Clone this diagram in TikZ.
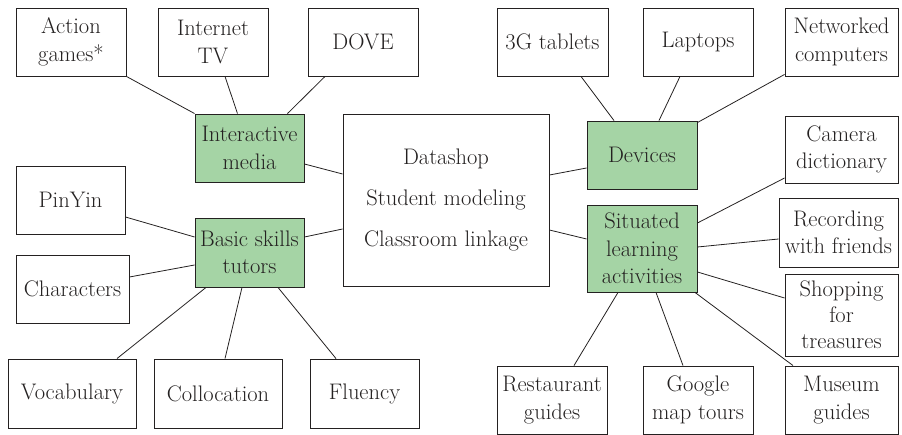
\documentclass[tikz,border=0pt]{standalone}
\usepackage{tikz}
\usetikzlibrary{positioning}
\usetikzlibrary{calc}

\definecolor{boxgreen}{RGB}{165,212,165}
\definecolor{inkgray}{RGB}{36,33,33}

\begin{document}
\begin{tikzpicture}[x=1pt,y=-1pt,every node/.style={font=\fontsize{22.5}{27.5}\selectfont,text=inkgray}]
	
	\tikzstyle{leaf}=[rectangle,draw=inkgray,line width=0.9pt,fill=white,align=center,inner sep=0pt,minimum width=110pt,minimum height=68pt]
	\tikzstyle{green leaf}=[leaf,fill=boxgreen]
	\tikzstyle{link}=[draw=inkgray,line width=0.8pt]
	
	\useasboundingbox (0,0) rectangle (902,435);
	
	% Hub in the middle:
	\node [leaf,minimum width=206pt,minimum height=172pt,font=\fontsize{22.5}{41}\selectfont] at (446,200) (hub) {Datashop\\Student modeling\\Classroom linkage};
	
	% Left half:
	\node [green leaf,minimum width=109pt] at (249.5,148) (media) {Interactive\\media};
	\node [green leaf,minimum width=109pt,minimum height=69pt] at (249.5,252.5) (basic) {Basic skills\\tutors};
	\node [leaf] at (71,42) (action) {Action\\games*};
	\node [leaf] at (213,42) (itv) {Internet\\TV};
	\node [leaf] at (363,42) (dove) {DOVE};
	\node [leaf,minimum width=109pt] at (70.5,200) (pinyin) {PinYin};
	\node [leaf,minimum width=113pt] at (72.5,289) (chars) {Characters};
	\node [leaf,minimum width=128pt,minimum height=69pt] at (72,393.5) (vocab) {Vocabulary};
	\node [leaf,minimum width=128pt,minimum height=69pt] at (218,393.5) (colloc) {Collocation};
	\node [leaf,minimum width=109pt,minimum height=69pt] at (364.5,393.5) (fluency) {Fluency};
	
	% Right half:
	\node [green leaf] at (642,155) (devices) {Devices};
	\node [green leaf,minimum height=87pt] at (642,248.5) (situated) {Situated\\learning\\activities};
	\node [leaf,minimum width=111pt] at (552.5,42) (tablets) {3G tablets};
	\node [leaf] at (698,42) (laptops) {Laptops};
	\node [leaf,minimum width=113pt] at (841.5,42) (netpc) {Networked\\computers};
	\node [leaf,minimum width=113pt,minimum height=67pt] at (841.5,149.5) (camera) {Camera\\dictionary};
	\node [leaf,minimum width=119pt,minimum height=69pt] at (838.5,232.5) (record) {Recording\\with friends};
	\node [leaf,minimum width=113pt,minimum height=82pt,font=\fontsize{22.5}{26}\selectfont] at (841.5,315) (shopping) {Shopping\\for\\treasures};
	\node [leaf] at (552,400) (restaurant) {Restaurant\\guides};
	\node [leaf] at (698,400) (gmap) {Google\\map tours};
	\node [leaf,minimum width=113pt] at (841.5,400) (museum) {Museum\\guides};
	
	% Links on the left:
	\draw[link] (action.south east) -- (media.north west);
	\draw[link] ($(itv.south)+(12,0)$) -- ($(media.north)+(-12,0)$);
	\draw[link] ($(dove.south)+(-38,0)$) -- ($(media.north)+(38,0)$);
	\draw[link] ($(media.east)+(0,16)$) -- ($(hub.west)+(0,-26)$);
	\draw[link] ($(pinyin.east)+(0,17)$) -- ($(basic.west)+(0,-15.5)$);
	\draw[link] ($(chars.east)+(0,-12)$) -- ($(basic.west)+(0,12.5)$);
	\draw[link] ($(basic.east)+(0,-15.5)$) -- ($(hub.west)+(0,29)$);
	\draw[link] ($(basic.south)+(-43.5,0)$) -- ($(vocab.north)+(45,0)$);
	\draw[link] ($(basic.south)+(-7.5,0)$) -- ($(colloc.north)+(7,0)$);
	\draw[link] ($(basic.south)+(28.5,0)$) -- ($(fluency.north)+(-28.5,0)$);
	
	% Links on the right:
	\draw[link] ($(hub.east)+(0,-25)$) -- ($(devices.west)+(0,13)$);
	\draw[link] ($(tablets.south)+(28.5,0)$) -- ($(devices.north)+(-28,0)$);
	\draw[link] ($(laptops.south)+(-18,0)$) -- ($(devices.north)+(17,0)$);
	\draw[link] ($(netpc.south west)+(0,-2)$) -- ($(devices.north east)+(0,2)$);
	\draw[link] ($(hub.east)+(0,30)$) -- ($(situated.west)+(0,-9.5)$);
	\draw[link] ($(camera.west)+(0,28.5)$) -- ($(situated.east)+(0,-25.5)$);
	\draw[link] ($(record.west)+(0,6.5)$) -- ($(situated.east)+(0,-1.5)$);
	\draw[link] ($(shopping.west)+(0,-17)$) -- ($(situated.east)+(0,23.5)$);
	\draw[link] ($(situated.south)+(-24,0)$) -- ($(restaurant.north)+(22,0)$);
	\draw[link] ($(situated.south)+(14,0)$) -- ($(gmap.north)+(-15,0)$);
	\draw[link] ($(situated.south)+(53,0)$) -- ($(museum.north)+(-48.5,0)$);
	
\end{tikzpicture}
\end{document}
